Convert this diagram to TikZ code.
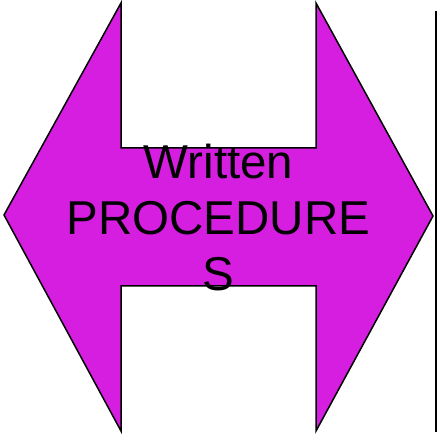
\documentclass[tikz,border=0pt]{standalone}
\usepackage{fontspec}
\setmainfont{Liberation Sans}
\usepackage{xcolor}
\usepackage{tikz}
\definecolor{procmagenta}{RGB}{214,30,224}

\begin{document}
\begin{tikzpicture}[
  x=1pt,y=1pt,
  dblarrow/.style={draw=black,fill=procmagenta,line width=1.5pt,line join=miter},
  edge/.style={draw=black,line width=1.8pt},
  label/.style={align=center,inner sep=0pt,font=\fontsize{47.5}{56}\selectfont}
]
  \useasboundingbox (0,0) rectangle (437,437);
  % double headed arrow
  \path[dblarrow] (4,222) -- (121,434) -- (121,289) -- (316,289) -- (316,434)
    -- (433,221) -- (316,6) -- (316,151) -- (121,151) -- (121,6) -- cycle;
  \node[label] (proc) at (218.5,219) {Written\\PROCEDURE\\S};
  % right edge line
  \coordinate (etop) at (435.7,426);
  \coordinate (ebot) at (435.7,5);
  \draw[edge] (etop) -- (ebot);
\end{tikzpicture}
\end{document}
